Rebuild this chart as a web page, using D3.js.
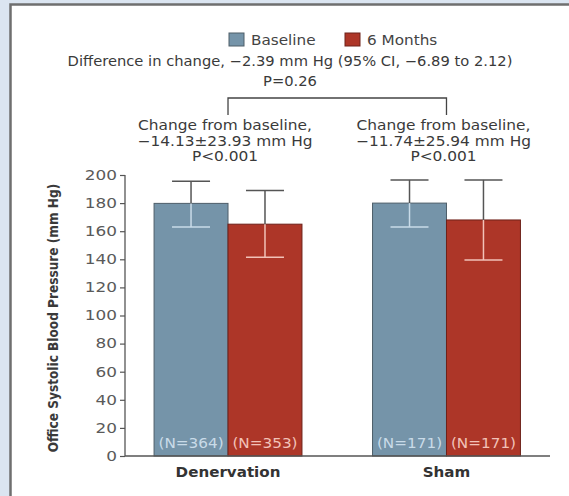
<!DOCTYPE html>
<html>
<head>
<meta charset="utf-8">
<script src="https://cdn.jsdelivr.net/npm/d3@7"></script>
<style>
  body { margin: 0; background: #dbe5f1; }
  svg { display: block; }
  text { font-family: "DejaVu Sans", "Open Sans", sans-serif; }
</style>
</head>
<body>
<script>
// data
var groups = ["Denervation", "Sham"];
var series = ["Baseline", "6 Months"];
var means = [[179.8, 165.0], [180.0, 168.0]];
var upper = [[195.5, 189.0], [196.5, 196.5]];
var lower = [[163.0, 141.5], [163.0, 139.5]];
var nLabels = [["(N=364)", "(N=353)"], ["(N=171)", "(N=171)"]];
var yTicks = [0, 20, 40, 60, 80, 100, 120, 140, 160, 180, 200];
var changeText = [
  ["Change from baseline,", "\u221214.13\u00b123.93 mm Hg", "P<0.001"],
  ["Change from baseline,", "\u221211.74\u00b125.94 mm Hg", "P<0.001"]
];
var diffText = ["Difference in change, \u22122.39  mm Hg (95% CI, \u22126.89 to 2.12)", "P=0.26"];

var W = 569, H = 496;
var barColor = {"Baseline": "#7594a9", "6 Months": "#ad3628"};
var lightColor = {"Baseline": "#c9dbe8", "6 Months": "#f2c2b8"};
var edgeColor = {"Baseline": "#4e5e69", "6 Months": "#6e221a"};

// the source image is a little wide, so text is stretched sideways
function place(sel, x, y, sx) {
  sel.attr("transform", "translate(" + x + "," + y + ") scale(" + sx + ",1)");
}

var svg = d3.select("body").append("svg")
  .attr("width", W)
  .attr("height", H);

// white panel with a grey frame on top and left
svg.append("rect")
  .attr("x", 10).attr("y", 4)
  .attr("width", W).attr("height", H)
  .attr("fill", "#ffffff");
svg.append("path")
  .attr("d", "M10.5," + H + "V4.5H" + W)
  .attr("fill", "none")
  .attr("stroke", "#6f6f6f")
  .attr("stroke-width", 2.5);

// scales
var y = d3.scaleLinear().domain([0, 200]).range([456, 175]);
var x0 = d3.scaleBand().domain(groups).range([125, 549.5])
  .paddingInner(0.323).paddingOuter(0.133);
var x1 = d3.scaleBand().domain(series).range([0, x0.bandwidth()]);

// y axis
var yAxis = d3.axisLeft(y).tickValues(yTicks).tickSize(5).tickPadding(3);
var gy = svg.append("g").attr("transform", "translate(125,0)").call(yAxis);
gy.select(".domain").attr("stroke", "#555").attr("stroke-width", 1.3)
  .attr("d", "M0," + y(200) + "V" + y(0));
gy.selectAll(".tick line").attr("stroke", "#555").attr("stroke-width", 1.2);
gy.selectAll(".tick text")
  .style("font-family", "\"DejaVu Sans\", sans-serif")
  .style("font-size", "13.5px")
  .attr("fill", "#5a5a5a")
  .attr("x", null)
  .attr("transform", "translate(-8,0) scale(1.25,1)");

// y title
svg.append("text")
  .attr("transform", "translate(58,318) rotate(-90)")
  .attr("text-anchor", "middle")
  .style("font-family", "\"DejaVu Sans Condensed\", \"DejaVu Sans\", sans-serif")
  .style("font-stretch", "condensed")
  .style("font-size", "13.5px")
  .style("font-weight", "bold")
  .attr("fill", "#3a3a3a")
  .text("Office Systolic Blood Pressure (mm Hg)");

// bars
var gGroup = svg.selectAll(".grp")
  .data(groups).enter()
  .append("g")
  .attr("class", "grp")
  .attr("transform", function(d) { return "translate(" + x0(d) + ",0)"; });

gGroup.each(function(g, gi) {
  var sel = d3.select(this);
  series.forEach(function(s, si) {
    var bx = x1(s), bw = x1.bandwidth(), cx = bx + bw / 2, cap = 19;
    sel.append("rect")
      .attr("x", bx).attr("y", y(means[gi][si]))
      .attr("width", bw).attr("height", y(0) - y(means[gi][si]))
      .attr("fill", barColor[s])
      .attr("stroke", edgeColor[s])
      .attr("stroke-width", 1);
    // upper whisker (dark, above the bar)
    sel.append("line")
      .attr("x1", cx).attr("x2", cx)
      .attr("y1", y(means[gi][si])).attr("y2", y(upper[gi][si]))
      .attr("stroke", "#555").attr("stroke-width", 1.5);
    sel.append("line")
      .attr("x1", cx - cap).attr("x2", cx + cap)
      .attr("y1", y(upper[gi][si])).attr("y2", y(upper[gi][si]))
      .attr("stroke", "#555").attr("stroke-width", 1.5);
    // lower whisker (light, inside the bar)
    sel.append("line")
      .attr("x1", cx).attr("x2", cx)
      .attr("y1", y(means[gi][si])).attr("y2", y(lower[gi][si]))
      .attr("stroke", lightColor[s]).attr("stroke-width", 1.5);
    sel.append("line")
      .attr("x1", cx - cap).attr("x2", cx + cap)
      .attr("y1", y(lower[gi][si])).attr("y2", y(lower[gi][si]))
      .attr("stroke", lightColor[s]).attr("stroke-width", 1.5);
    // N label
    sel.append("text")
      .attr("text-anchor", "middle")
      .style("font-size", "13.5px")
      .attr("fill", lightColor[s])
      .text(nLabels[gi][si])
      .call(place, cx, 448, 1.13);
  });
});

// x axis line
svg.append("line")
  .attr("x1", 125).attr("x2", 550)
  .attr("y1", y(0)).attr("y2", y(0))
  .attr("stroke", "#555").attr("stroke-width", 1.3);

// category labels
svg.selectAll(".cat")
  .data(groups).enter()
  .append("text")
  .attr("class", "cat")
  .attr("text-anchor", "middle")
  .style("font-size", "14px")
  .style("font-weight", "bold")
  .attr("fill", "#333")
  .text(function(d) { return d; })
  .each(function(d) { d3.select(this).call(place, x0(d) + x0.bandwidth() / 2, 477, 1.08); });

// legend
var legend = svg.append("g").selectAll("g")
  .data(series).enter()
  .append("g")
  .attr("transform", function(d, i) { return "translate(" + [229, 345][i] + ",33)"; });
legend.append("rect")
  .attr("width", 15).attr("height", 13)
  .attr("fill", function(d) { return barColor[d]; })
  .attr("stroke", function(d) { return edgeColor[d]; })
  .attr("stroke-width", 1);
legend.append("text")
  .style("font-size", "13.5px")
  .attr("fill", "#444")
  .text(function(d) { return d; })
  .call(place, 22, 11.5, 1.13);

// difference annotation
svg.selectAll(".diff")
  .data(diffText).enter()
  .append("text")
  .attr("class", "diff")
  .attr("text-anchor", "middle")
  .style("font-size", "13.5px")
  .attr("fill", "#3a3a3a")
  .text(function(d) { return d; })
  .each(function(d, i) { d3.select(this).call(place, 290, 66 + i * 20, 1.09); });

// bracket
var bx1 = x0("Denervation") + x0.bandwidth() / 2;
var bx2 = x0("Sham") + x0.bandwidth() / 2;
svg.append("path")
  .attr("d", "M" + bx1 + ",115V98H" + bx2 + "V115")
  .attr("fill", "none")
  .attr("stroke", "#444")
  .attr("stroke-width", 1.3);

// change-from-baseline annotations
groups.forEach(function(g, gi) {
  svg.append("g").selectAll("text")
    .data(changeText[gi]).enter()
    .append("text")
    .attr("text-anchor", "middle")
    .style("font-size", "13.5px")
    .attr("fill", "#3a3a3a")
    .text(function(d) { return d; })
    .each(function(d, i) {
      d3.select(this).call(place, x0(g) + x0.bandwidth() / 2 - 3, 130 + i * 15.5, 1.14);
    });
});
</script>
</body>
</html>
